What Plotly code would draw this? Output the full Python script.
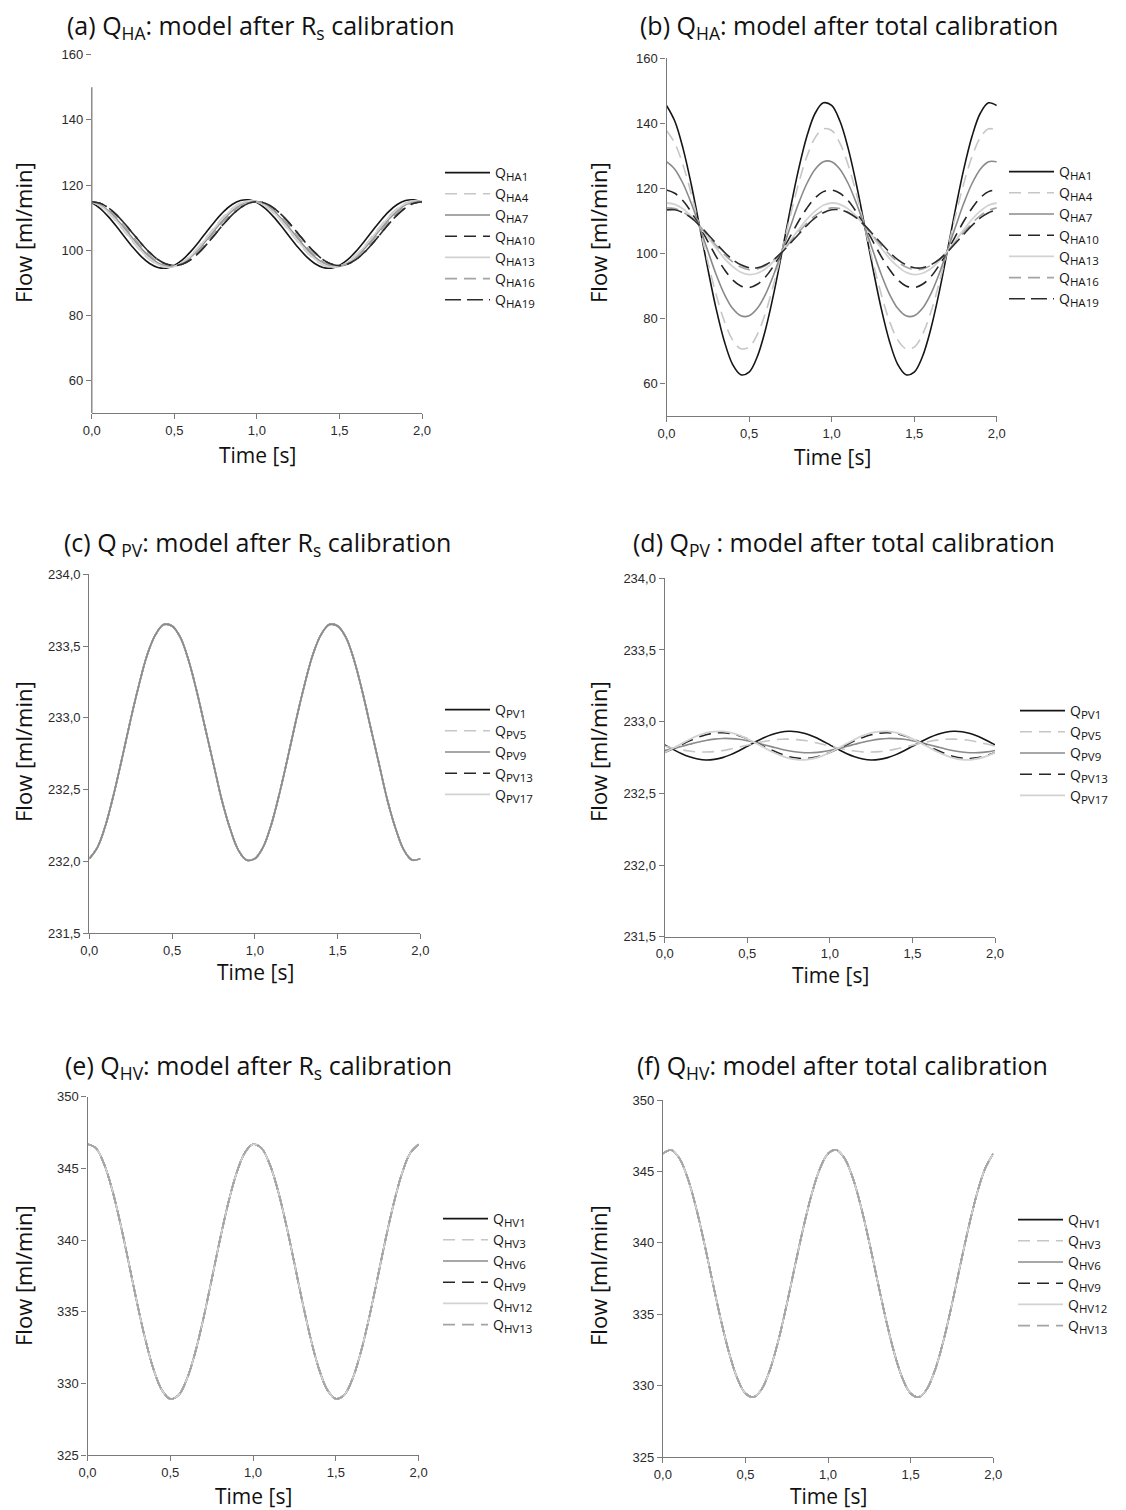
import plotly.graph_objects as go

W, H = 1126, 1510

# ---------------- data ----------------
T = [0.0, 0.05, 0.1, 0.15, 0.2, 0.25, 0.3, 0.35, 0.4, 0.45, 0.5, 0.55, 0.6, 0.65, 0.7, 0.75, 0.8, 0.85, 0.9, 0.95,
     1.0, 1.05, 1.1, 1.15, 1.2, 1.25, 1.3, 1.35, 1.4, 1.45, 1.5, 1.55, 1.6, 1.65, 1.7, 1.75, 1.8, 1.85, 1.9, 1.95, 2.0]

X_TICKS = [0.0, 0.5, 1.0, 1.5, 2.0]
X_TICK_LABELS = ["0,0", "0,5", "1,0", "1,5", "2,0"]

# (a) Q_HA after Rs calibration
HA1_A = [114.64, 112.88, 110.34, 107.29, 104.01, 100.83, 98.06, 95.96, 94.75, 94.54, 95.36, 97.13, 99.66, 102.71, 105.99, 109.17, 111.94, 114.04, 115.25, 115.46,
         114.64, 112.88, 110.34, 107.29, 104.01, 100.83, 98.06, 95.96, 94.75, 94.54, 95.36, 97.13, 99.66, 102.71, 105.99, 109.17, 111.94, 114.04, 115.25, 115.46, 114.64]
HA4_A = [114.88, 113.61, 111.50, 108.75, 105.64, 102.46, 99.53, 97.14, 95.51, 94.82, 95.12, 96.39, 98.50, 101.25, 104.36, 107.54, 110.47, 112.86, 114.49, 115.18,
         114.88, 113.61, 111.50, 108.75, 105.64, 102.46, 99.53, 97.14, 95.51, 94.82, 95.12, 96.39, 98.50, 101.25, 104.36, 107.54, 110.47, 112.86, 114.49, 115.18, 114.88]
HA7_A = [114.93, 113.96, 112.12, 109.59, 106.61, 103.49, 100.51, 97.98, 96.14, 95.17, 95.17, 96.14, 97.98, 100.51, 103.49, 106.61, 109.59, 112.12, 113.96, 114.93,
         114.93, 113.96, 112.12, 109.59, 106.61, 103.49, 100.51, 97.98, 96.14, 95.17, 95.17, 96.14, 97.98, 100.51, 103.49, 106.61, 109.59, 112.12, 113.96, 114.93, 114.93]
HA10_A = [114.90, 114.42, 113.03, 110.86, 108.13, 105.10, 102.07, 99.34, 97.17, 95.78, 95.30, 95.78, 97.17, 99.34, 102.07, 105.10, 108.13, 110.86, 113.03, 114.42,
          114.90, 114.42, 113.03, 110.86, 108.13, 105.10, 102.07, 99.34, 97.17, 95.78, 95.30, 95.78, 97.17, 99.34, 102.07, 105.10, 108.13, 110.86, 113.03, 114.42, 114.90]
HA13_A = [114.85, 113.70, 111.70, 109.00, 105.95, 102.80, 99.85, 97.40, 95.70, 94.90, 95.10, 96.25, 98.30, 101.00, 104.05, 107.20, 110.15, 112.60, 114.30, 115.10,
          114.85, 113.70, 111.70, 109.00, 105.95, 102.80, 99.85, 97.40, 95.70, 94.90, 95.10, 96.25, 98.30, 101.00, 104.05, 107.20, 110.15, 112.60, 114.30, 115.10, 114.85]
HA16_A = [114.92, 114.15, 112.50, 110.10, 107.20, 104.10, 101.10, 98.45, 96.50, 95.35, 95.20, 95.95, 97.60, 100.00, 102.90, 106.00, 109.00, 111.65, 113.60, 114.75,
          114.92, 114.15, 112.50, 110.10, 107.20, 104.10, 101.10, 98.45, 96.50, 95.35, 95.20, 95.95, 97.60, 100.00, 102.90, 106.00, 109.00, 111.65, 113.60, 114.75, 114.92]
HA19_A = [114.90, 114.42, 113.03, 110.86, 108.13, 105.10, 102.07, 99.34, 97.17, 95.78, 95.30, 95.78, 97.17, 99.34, 102.07, 105.10, 108.13, 110.86, 113.03, 114.42,
          114.90, 114.42, 113.03, 110.86, 108.13, 105.10, 102.07, 99.34, 97.17, 95.78, 95.30, 95.78, 97.17, 99.34, 102.07, 105.10, 108.13, 110.86, 113.03, 114.42, 114.90]

# (b) Q_HA after total calibration
HA1_B = [145.5, 140.7, 132.3, 121.2, 108.4, 95.3, 83.1, 73.0, 65.9, 62.7, 63.5, 68.3, 76.7, 87.8, 100.6, 113.7, 125.9, 136.0, 143.1, 146.3,
         145.5, 140.7, 132.3, 121.2, 108.4, 95.3, 83.1, 73.0, 65.9, 62.7, 63.5, 68.3, 76.7, 87.8, 100.6, 113.7, 125.9, 136.0, 143.1, 146.3, 145.5]
HA4_B = [137.8, 133.9, 127.2, 118.3, 108.1, 97.4, 87.5, 79.2, 73.4, 70.7, 71.2, 75.1, 81.8, 90.7, 100.9, 111.6, 121.5, 129.8, 135.6, 138.3,
         137.8, 133.9, 127.2, 118.3, 108.1, 97.4, 87.5, 79.2, 73.4, 70.7, 71.2, 75.1, 81.8, 90.7, 100.9, 111.6, 121.5, 129.8, 135.6, 138.3, 137.8]
HA7_B = [128.2, 125.9, 121.5, 115.4, 108.2, 100.8, 93.6, 87.5, 83.1, 80.8, 80.8, 83.1, 87.5, 93.6, 100.8, 108.2, 115.4, 121.5, 125.9, 128.2,
         128.2, 125.9, 121.5, 115.4, 108.2, 100.8, 93.6, 87.5, 83.1, 80.8, 80.8, 83.1, 87.5, 93.6, 100.8, 108.2, 115.4, 121.5, 125.9, 128.2, 128.2]
HA10_B = [119.5, 118.5, 116.2, 112.7, 108.4, 103.7, 99.1, 95.1, 91.9, 90.0, 89.5, 90.5, 92.8, 96.3, 100.6, 105.3, 109.9, 113.9, 117.1, 119.0,
          119.5, 118.5, 116.2, 112.7, 108.4, 103.7, 99.1, 95.1, 91.9, 90.0, 89.5, 90.5, 92.8, 96.3, 100.6, 105.3, 109.9, 113.9, 117.1, 119.0, 119.5]
HA13_B = [115.5, 115.1, 113.7, 111.4, 108.4, 105.1, 101.7, 98.5, 96.0, 94.2, 93.5, 93.9, 95.3, 97.6, 100.6, 103.9, 107.3, 110.5, 113.0, 114.8,
          115.5, 115.1, 113.7, 111.4, 108.4, 105.1, 101.7, 98.5, 96.0, 94.2, 93.5, 93.9, 95.3, 97.6, 100.6, 103.9, 107.3, 110.5, 113.0, 114.8, 115.5]
HA16_B = [114.0, 113.8, 112.7, 110.9, 108.4, 105.5, 102.5, 99.7, 97.4, 95.8, 95.0, 95.2, 96.3, 98.1, 100.6, 103.5, 106.5, 109.3, 111.6, 113.2,
          114.0, 113.8, 112.7, 110.9, 108.4, 105.5, 102.5, 99.7, 97.4, 95.8, 95.0, 95.2, 96.3, 98.1, 100.6, 103.5, 106.5, 109.3, 111.6, 113.2, 114.0]
HA19_B = [113.4, 113.4, 112.5, 110.9, 108.6, 105.9, 103.1, 100.4, 98.1, 96.5, 95.6, 95.6, 96.5, 98.1, 100.4, 103.1, 105.9, 108.6, 110.9, 112.5,
          113.4, 113.4, 112.5, 110.9, 108.6, 105.9, 103.1, 100.4, 98.1, 96.5, 95.6, 95.6, 96.5, 98.1, 100.4, 103.1, 105.9, 108.6, 110.9, 112.5, 113.4]

# (c) Q_PV after Rs calibration (all series coincide)
PV_C = [232.02, 232.10, 232.26, 232.48, 232.73, 232.99, 233.23, 233.44, 233.58, 233.65, 233.64, 233.56, 233.40, 233.18, 232.93, 232.68, 232.43, 232.23, 232.08, 232.01,
        232.02, 232.10, 232.26, 232.48, 232.73, 232.99, 233.23, 233.44, 233.58, 233.65, 233.64, 233.56, 233.40, 233.18, 232.93, 232.68, 232.43, 232.23, 232.08, 232.01, 232.02]

# (d) Q_PV after total calibration
PV1_D = [232.838, 232.807, 232.778, 232.755, 232.740, 232.733, 232.737, 232.749, 232.770, 232.797, 232.828, 232.859, 232.888, 232.911, 232.926, 232.933, 232.930, 232.917, 232.896, 232.869,
         232.838, 232.807, 232.778, 232.755, 232.740, 232.733, 232.737, 232.749, 232.770, 232.797, 232.828, 232.859, 232.888, 232.911, 232.926, 232.933, 232.930, 232.917, 232.896, 232.869, 232.838]
PV5_D = [232.830, 232.816, 232.804, 232.795, 232.789, 232.788, 232.791, 232.798, 232.809, 232.822, 232.836, 232.850, 232.862, 232.871, 232.877, 232.878, 232.875, 232.868, 232.857, 232.844,
         232.830, 232.816, 232.804, 232.795, 232.789, 232.788, 232.791, 232.798, 232.809, 232.822, 232.836, 232.850, 232.862, 232.871, 232.877, 232.878, 232.875, 232.868, 232.857, 232.844, 232.830]
PV9_D = [232.799, 232.812, 232.827, 232.842, 232.857, 232.869, 232.878, 232.883, 232.882, 232.877, 232.867, 232.854, 232.839, 232.824, 232.809, 232.797, 232.788, 232.783, 232.784, 232.789,
         232.799, 232.812, 232.827, 232.842, 232.857, 232.869, 232.878, 232.883, 232.882, 232.877, 232.867, 232.854, 232.839, 232.824, 232.809, 232.797, 232.788, 232.783, 232.784, 232.789, 232.799]
PV13_D = [232.785, 232.811, 232.839, 232.866, 232.890, 232.909, 232.920, 232.923, 232.917, 232.902, 232.881, 232.855, 232.827, 232.800, 232.776, 232.757, 232.746, 232.743, 232.749, 232.764,
          232.785, 232.811, 232.839, 232.866, 232.890, 232.909, 232.920, 232.923, 232.917, 232.902, 232.881, 232.855, 232.827, 232.800, 232.776, 232.757, 232.746, 232.743, 232.749, 232.764, 232.785]
PV17_D = [232.785, 232.814, 232.846, 232.876, 232.902, 232.921, 232.931, 232.932, 232.924, 232.906, 232.881, 232.852, 232.821, 232.790, 232.765, 232.745, 232.735, 232.734, 232.743, 232.760,
          232.785, 232.814, 232.846, 232.876, 232.902, 232.921, 232.931, 232.932, 232.924, 232.906, 232.881, 232.852, 232.821, 232.790, 232.765, 232.745, 232.735, 232.734, 232.743, 232.760, 232.785]

# (e) Q_HV after Rs calibration (all series coincide)
HV_E = [346.68, 346.42, 345.31, 343.47, 341.08, 338.36, 335.58, 333.03, 330.94, 329.52, 328.92, 329.18, 330.29, 332.13, 334.52, 337.24, 340.02, 342.57, 344.66, 346.08,
        346.68, 346.42, 345.31, 343.47, 341.08, 338.36, 335.58, 333.03, 330.94, 329.52, 328.92, 329.18, 330.29, 332.13, 334.52, 337.24, 340.02, 342.57, 344.66, 346.08, 346.68]

# (f) Q_HV after total calibration (all series coincide)
HV_F = [346.25, 346.50, 345.91, 344.53, 342.50, 340.01, 337.30, 334.66, 332.33, 330.53, 329.45, 329.20, 329.79, 331.17, 333.20, 335.69, 338.40, 341.04, 343.37, 345.17,
        346.25, 346.50, 345.91, 344.53, 342.50, 340.01, 337.30, 334.66, 332.33, 330.53, 329.45, 329.20, 329.79, 331.17, 333.20, 335.69, 338.40, 341.04, 343.37, 345.17, 346.25]

HA_NAMES = ["HA1", "HA4", "HA7", "HA10", "HA13", "HA16", "HA19"]
PV_NAMES = ["PV1", "PV5", "PV9", "PV13", "PV17"]
HV_NAMES = ["HV1", "HV3", "HV6", "HV9", "HV12", "HV13"]

HA_TICKS = [60, 80, 100, 120, 140, 160]
HA_TICK_LABELS = ["60", "80", "100", "120", "140", "160"]
PV_TICKS = [231.5, 232.0, 232.5, 233.0, 233.5, 234.0]
PV_TICK_LABELS = ["231,5", "232,0", "232,5", "233,0", "233,5", "234,0"]
HV_TICKS = [325, 330, 335, 340, 345, 350]
HV_TICK_LABELS = ["325", "330", "335", "340", "345", "350"]

# ---------------- styles ----------------
STYLES = [
    dict(color="#161616", dash="solid", width=1.6),
    dict(color="#c6c6c6", dash="12px,7px", width=1.6),
    dict(color="#8a8a8a", dash="solid", width=1.6),
    dict(color="#262626", dash="12px,7px", width=1.6),
    dict(color="#d2d2d2", dash="solid", width=1.8),
    dict(color="#a4a4a4", dash="12px,7px", width=1.6),
    dict(color="#2c2c2c", dash="16px,6px", width=1.6),
]
HV_STYLES = STYLES[:6]
PV_STYLES = STYLES[:5]

TITLE_FONT = dict(family="Open Sans", size=25, color="#111111")
AXTITLE_FONT = dict(family="Open Sans", size=22, color="#111111")
XTITLE_FONT = dict(family="Open Sans", size=21, color="#111111")
TICK_FONT = dict(family="Liberation Sans", size=13, color="#2a2a2a")
LEG_FONT = dict(family="Open Sans", size=14, color="#151515")
AX_COLOR = "#7a7a7a"

# drawing order for panels whose curves coincide (legend order kept by legendrank)
OVERLAP_ORDER_PV = [0, 3, 1, 4, 2]
OVERLAP_ORDER_HV = [0, 3, 1, 2, 4, 5]

# pixel boxes: (left, right, top, bottom) of each plot area
panels = [
    dict(box=(91.8, 422.0, 54.7, 413.3), yr=[50, 160], yt=(HA_TICKS, HA_TICK_LABELS),
         series=list(zip(HA_NAMES, [HA1_A, HA4_A, HA7_A, HA10_A, HA13_A, HA16_A, HA19_A])),
         styles=STYLES, order=None,
         title="(a) Q<sub>HA</sub>: model after R<sub>s</sub> calibration", tpos=(261, 26),
         flow=(23, 233), time=(257, 455), leg=(440, 157)),
    dict(box=(666.5, 996.8, 58.3, 416.0), yr=[50, 160], yt=(HA_TICKS, HA_TICK_LABELS),
         series=list(zip(HA_NAMES, [HA1_B, HA4_B, HA7_B, HA10_B, HA13_B, HA16_B, HA19_B])),
         styles=STYLES, order=None,
         title="(b) Q<sub>HA</sub>: model after total calibration", tpos=(849, 26),
         flow=(598, 233), time=(832, 457), leg=(1004, 156)),
    dict(box=(89.3, 420.4, 574.3, 933.3), yr=[231.5, 234.0], yt=(PV_TICKS, PV_TICK_LABELS),
         series=[(n, PV_C) for n in PV_NAMES],
         styles=PV_STYLES, order=OVERLAP_ORDER_PV,
         title="(c) Q<sub> PV</sub>: model after R<sub>s</sub> calibration", tpos=(257, 543),
         flow=(23, 752), time=(255, 972), leg=(440, 694)),
    dict(box=(664.7, 995.0, 578.3, 936.7), yr=[231.5, 234.0], yt=(PV_TICKS, PV_TICK_LABELS),
         series=list(zip(PV_NAMES, [PV1_D, PV5_D, PV9_D, PV13_D, PV17_D])),
         styles=PV_STYLES, order=None,
         title="(d) Q<sub>PV</sub> : model after total calibration", tpos=(844, 544),
         flow=(598, 752), time=(830, 975), leg=(1015, 695)),
    dict(box=(87.5, 418.6, 1096.7, 1455.0), yr=[325, 350], yt=(HV_TICKS, HV_TICK_LABELS),
         series=[(n, HV_E) for n in HV_NAMES],
         styles=HV_STYLES, order=OVERLAP_ORDER_HV,
         title="(e) Q<sub>HV</sub>: model after R<sub>s</sub> calibration", tpos=(258, 1066),
         flow=(23, 1276), time=(253, 1496), leg=(438, 1203)),
    dict(box=(662.9, 993.2, 1100.0, 1457.0), yr=[325, 350], yt=(HV_TICKS, HV_TICK_LABELS),
         series=[(n, HV_F) for n in HV_NAMES],
         styles=HV_STYLES, order=OVERLAP_ORDER_HV,
         title="(f) Q<sub>HV</sub>: model after total calibration", tpos=(842, 1066),
         flow=(598, 1276), time=(828, 1496), leg=(1013, 1204)),
]

fig = go.Figure()
layout = dict(width=W, height=H, margin=dict(l=0, r=0, t=0, b=0, autoexpand=False),
              paper_bgcolor="white", plot_bgcolor="white", showlegend=True)
annotations = []
shapes = []

for i, p in enumerate(panels, start=1):
    sfx = "" if i == 1 else str(i)
    xa, ya = "x" + sfx, "y" + sfx
    leg = "legend" + sfx
    l, r, t, b = p["box"]
    order = p["order"] if p["order"] is not None else list(range(len(p["series"])))
    for j in order:
        name, vals = p["series"][j]
        st = p["styles"][j]
        fig.add_trace(go.Scatter(
            x=T, y=vals, mode="lines",
            name="Q<sub><span style='font-size:11.5px'>" + name + "</span></sub>",
            line=dict(color=st["color"], dash=st["dash"], width=st["width"], shape="spline", smoothing=1.0),
            xaxis=xa, yaxis=ya, legend=leg, legendrank=100 + j, hoverinfo="skip"))
    common = dict(showgrid=False, zeroline=False, ticks="outside", ticklen=5, tickwidth=1.2,
                  tickcolor=AX_COLOR, linecolor=AX_COLOR, linewidth=1.3, tickfont=TICK_FONT,
                  automargin=False)
    layout["xaxis" + sfx] = dict(domain=[l / W, r / W], range=[0, 2], anchor=ya,
                                 tickvals=X_TICKS, ticktext=X_TICK_LABELS, showline=True, **common)
    layout["yaxis" + sfx] = dict(domain=[1 - b / H, 1 - t / H], range=p["yr"], anchor=xa,
                                 tickvals=p["yt"][0], ticktext=p["yt"][1],
                                 showline=(i != 1), **common)
    lx, ly = p["leg"]
    layout[leg] = dict(x=lx / W, y=1 - ly / H, xanchor="left", yanchor="top",
                       font=LEG_FONT, bgcolor="rgba(0,0,0,0)", itemwidth=45,
                       tracegroupgap=0, traceorder="normal")
    tx, ty = p["tpos"]
    annotations.append(dict(text=p["title"], x=tx / W, y=1 - ty / H, xref="paper", yref="paper",
                            xanchor="center", yanchor="middle", showarrow=False, font=TITLE_FONT))
    fx, fy = p["flow"]
    annotations.append(dict(text="Flow [ml/min]", x=fx / W, y=1 - fy / H, xref="paper", yref="paper",
                            xanchor="center", yanchor="middle", textangle=-90, showarrow=False,
                            font=AXTITLE_FONT))
    mx, my = p["time"]
    annotations.append(dict(text="Time [s]", x=mx / W, y=1 - my / H, xref="paper", yref="paper",
                            xanchor="center", yanchor="middle", showarrow=False, font=XTITLE_FONT))

# panel (a): vertical axis line stops at 150 in the original
shapes.append(dict(type="line", xref="x domain", yref="y", x0=0, x1=0, y0=50, y1=150,
                   line=dict(color=AX_COLOR, width=1.3), layer="above"))

layout["annotations"] = annotations
layout["shapes"] = shapes
fig.update_layout(**layout)
fig.write_html("out.html", config={"displayModeBar": False},
               post_script="document.body.style.margin='0px';")
